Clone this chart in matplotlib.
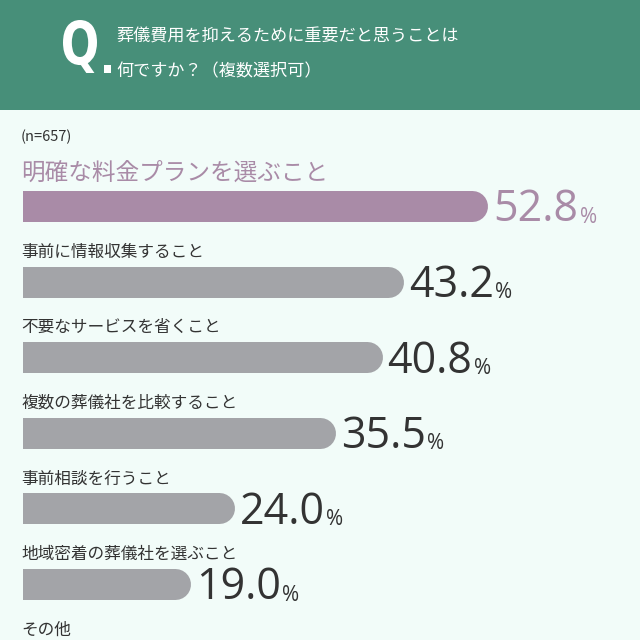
import numpy as np
import matplotlib
matplotlib.use("Agg")
import matplotlib.pyplot as plt
from matplotlib.patches import Rectangle, PathPatch
from matplotlib.textpath import TextPath
from matplotlib.font_manager import FontProperties
from matplotlib.transforms import offset_copy, Affine2D

plt.rcParams['font.family'] = ['Noto Sans CJK JP', 'DejaVu Sans']

# データ
titel_zeile1 = "葬儀費用を抑えるために重要だと思うことは"
titel_zeile2 = "何ですか？（複数選択可）"
n_text = "(n=657)"
kategorien = [
    "明確な料金プランを選ぶこと",
    "事前に情報収集すること",
    "不要なサービスを省くこと",
    "複数の葬儀社を比較すること",
    "事前相談を行うこと",
    "地域密着の葬儀社を選ぶこと",
    "その他",
]
werte = [52.8, 43.2, 40.8, 35.5, 24.0, 19.0, np.nan]  # その他: Balken nicht sichtbar

gruen = "#478F79"
hintergrund = "#F2FCF9"
lila = "#A98BA7"
grau = "#A3A4A8"
dunkel = "#333333"

fig = plt.figure(figsize=(6.4, 6.4), dpi=100, facecolor=hintergrund)

# Kopfzeile
fig.patches.append(Rectangle((0, 1 - 110 / 640), 1, 110 / 640, transform=fig.transFigure,
                             facecolor=gruen, edgecolor="none", zorder=0))

# schmales "Q" als Pfad (gestaucht)
q_pfad = TextPath((0, 0), "Q", size=100, prop=FontProperties(family="DejaVu Sans", weight="bold"))
ext = q_pfad.get_extents()
sx = 34 / ext.width
sy = 53 / ext.height
q_trans = Affine2D().translate(-ext.x0, -ext.y0).scale(sx, sy).translate(63, 640 - 73)
fig.patches.append(PathPatch(q_pfad, transform=q_trans, facecolor="white", edgecolor="none"))
fig.patches.append(Rectangle((104 / 640, 1 - 73 / 640), 7 / 640, 8 / 640, transform=fig.transFigure,
                             facecolor="white", edgecolor="none"))

fig.text(116 / 640, 1 - 37 / 640, titel_zeile1, color="white", fontsize=12.3, va="center", ha="left")
fig.text(116 / 640, 1 - 71 / 640, titel_zeile2, color="white", fontsize=12.3, va="center", ha="left")
fig.text(21 / 640, 1 - 137 / 640, n_text, color=dunkel, fontsize=10.5, va="center", ha="left")

# Balkenbereich
px_pro_prozent = 8.8
ax_l, ax_r = 23, 640
ax = fig.add_axes([ax_l / 640, 0, (ax_r - ax_l) / 640, 1 - 130 / 640])
ax.set_facecolor("none")
abstand = 75.6
y0 = 206
ax.set_xlim(0, (ax_r - ax_l) / px_pro_prozent)
ax.set_ylim((640 - y0) / abstand, -(y0 - 130) / abstand)
ax.axis("off")

balken_px = 31
lw = balken_px * 72 / 100
halbe_hoehe = balken_px / 2 / abstand
trans = offset_copy(ax.transData, fig=fig, x=-lw / 2, y=0, units="points")

for i, (kat, wert) in enumerate(zip(kategorien, werte)):
    erste = i == 0
    farbe = lila if erste else grau
    ax.annotate(kat, xy=(0, i - halbe_hoehe), xytext=(-1, 4), textcoords="offset points",
                ha="left", va="bottom", fontsize=17 if erste else 12,
                color=lila if erste else dunkel, annotation_clip=False)
    if np.isnan(wert):
        continue
    ax.plot([-20, wert], [i, i], color=farbe, lw=lw, solid_capstyle="round",
            transform=trans, clip_on=True)
    zahl = ax.annotate(f"{wert:.1f}", xy=(wert, i + halbe_hoehe), xytext=(4, 0),
                       textcoords="offset points", ha="left", va="baseline",
                       fontsize=31, color=lila if erste else dunkel,
                       family=["Open Sans", "DejaVu Sans"], annotation_clip=False)
    ax.annotate("%", xy=(1, 0), xycoords=zahl, xytext=(1, 3.5), textcoords="offset points",
                ha="left", va="bottom", fontsize=15, color=lila if erste else dunkel,
                family=["Open Sans", "DejaVu Sans"], annotation_clip=False)

fig.savefig("out.png", dpi=100, facecolor=hintergrund)
